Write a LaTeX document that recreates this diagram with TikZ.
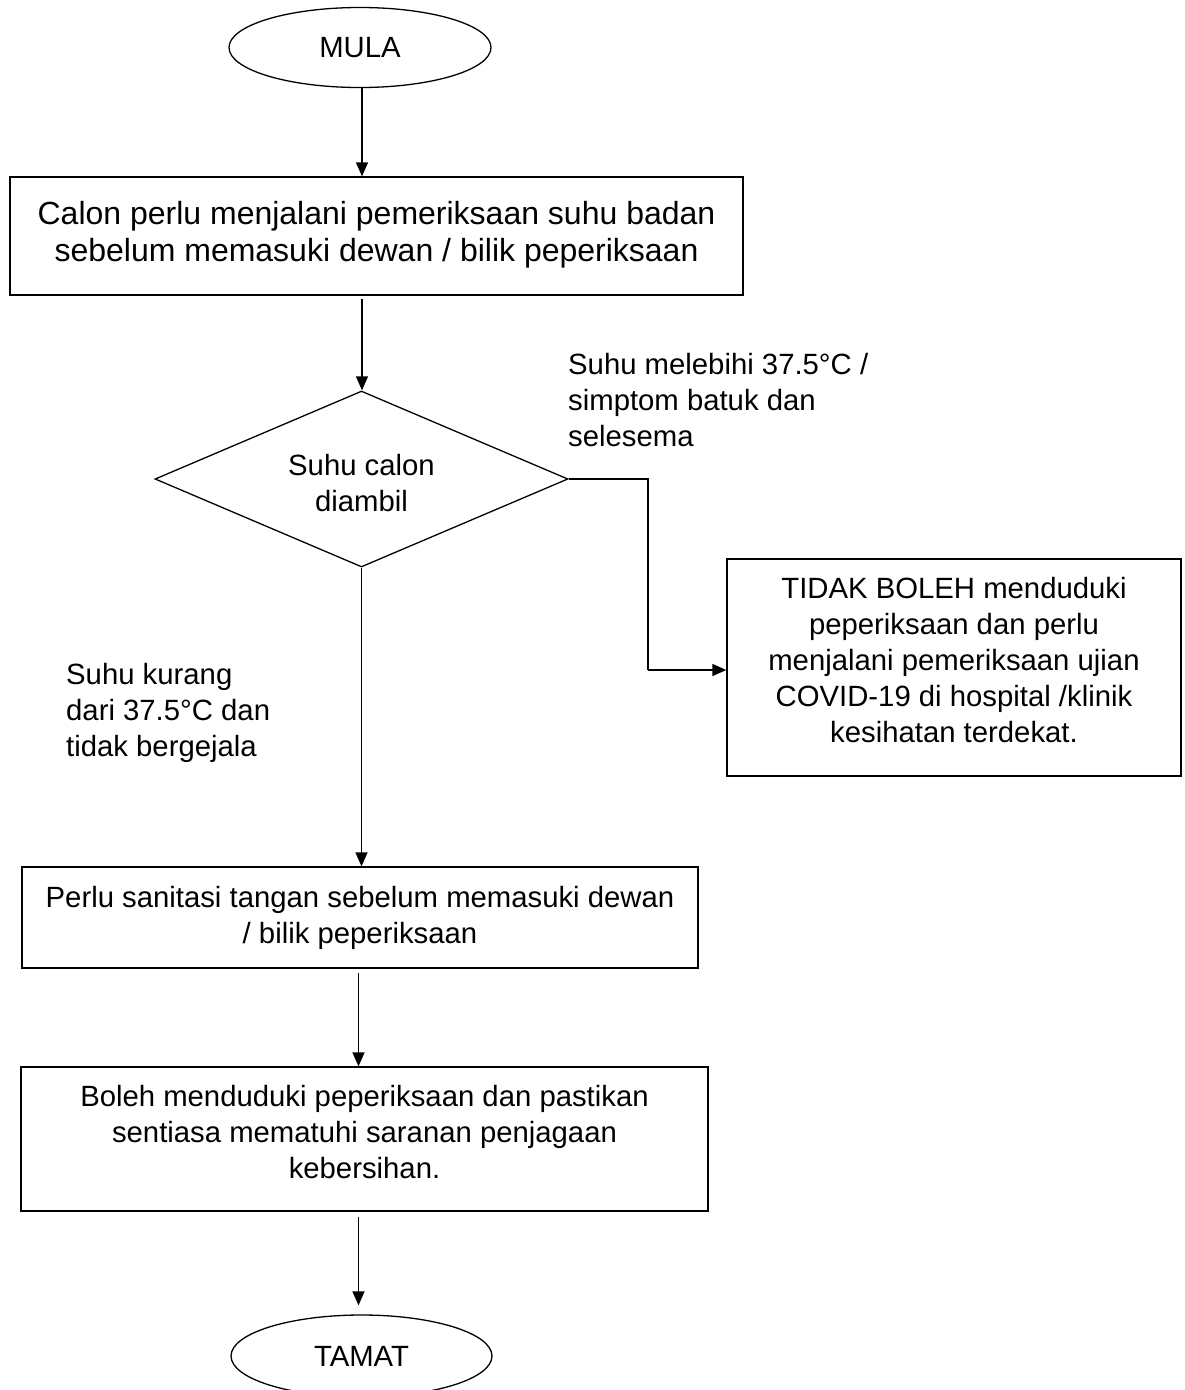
\documentclass[tikz,border=0pt]{standalone}
\usepackage{fontspec}
\setmainfont{Liberation Sans}
\usetikzlibrary{shapes.geometric,arrows.meta}
\tikzset{
  txt/.style={align=center, inner sep=0pt, font=\fontsize{29.3}{36}\selectfont},
  flowbox/.style={draw, line width=1.3pt, rectangle, inner sep=0pt},
  terminal/.style={draw, line width=1.3pt, ellipse, inner sep=0pt,
    font=\fontsize{29.3}{36}\selectfont},
  decision/.style={draw, line width=1.3pt, diamond, aspect=2.335, inner sep=0pt},
  lbl/.style={align=left, inner sep=0pt, font=\fontsize{29.3}{36}\selectfont},
  flowarrow/.style={line width=1.3pt, -{Triangle[length=14pt,width=12pt]}},
  flowline/.style={line width=1.3pt}
}
\begin{document}
\begin{tikzpicture}[x=1pt,y=-1pt]
\useasboundingbox (0,0) rectangle (1185,1390);
\coordinate (axis) at (362,0);
\coordinate (axislow) at (358.5,0);
\node[terminal, minimum width=262pt, minimum height=80pt] (mula) at (360,47.5) {MULA};
\node[flowbox, minimum width=733pt, minimum height=118pt,
  label={[txt, font=\fontsize{32}{37}\selectfont, yshift=1pt]center:{Calon perlu menjalani pemeriksaan suhu badan\\sebelum memasuki dewan / bilik peperiksaan}}]
  (box1) at (376.5,236) {};
\node[decision, minimum width=413pt, minimum height=176pt,
  label={[txt, yshift=-4pt]center:{Suhu calon\\diambil}}] (dia) at (361.5,479) {};
\node[flowbox, minimum width=454pt, minimum height=217pt,
  label={[txt, yshift=7pt]center:{TIDAK BOLEH menduduki\\peperiksaan dan perlu\\menjalani pemeriksaan ujian\\COVID-19 di hospital /klinik\\kesihatan terdekat.}}]
  (box2) at (954,667.5) {};
\node[flowbox, minimum width=676pt, minimum height=101pt,
  label={[txt]center:{Perlu sanitasi tangan sebelum memasuki dewan\\/ bilik peperiksaan}}]
  (box3) at (360,917.5) {};
\node[flowbox, minimum width=687pt, minimum height=144pt,
  label={[txt, yshift=7pt]center:{Boleh menduduki peperiksaan dan pastikan\\sentiasa mematuhi saranan penjagaan\\kebersihan.}}]
  (box4) at (364.5,1139) {};
\node[terminal, minimum width=261pt, minimum height=82pt] (tamat) at (361.5,1356) {TAMAT};
\node[lbl, anchor=base west] (lblyes) at (568,446)
  {Suhu melebihi 37.5°C /\\simptom batuk dan\\selesema};
\node[lbl, anchor=base west] (lblno) at (66,756)
  {Suhu kurang\\dari 37.5°C dan\\tidak bergejala};
\coordinate (bend) at (648,479);
\coordinate (bend2) at (648,670);
\draw[flowarrow] (axis |- mula.south) -- (axis |- box1.north);
\draw[flowarrow] ([yshift=-3pt]axis |- box1.south) -- (axis |- dia.north);
\draw[flowline] (dia.east) -- (bend) -- (bend2);
\draw[flowarrow] (bend2) -- (bend2 -| box2.west);
\draw[flowarrow] (dia.south) -- (dia.south |- box3.north);
\draw[flowarrow] ([yshift=-4pt]axislow |- box3.south) -- (axislow |- box4.north);
\draw[flowarrow, shorten >=9pt] ([yshift=-5pt]axislow |- box4.south) -- (axislow |- tamat.north);
\end{tikzpicture}
\end{document}
